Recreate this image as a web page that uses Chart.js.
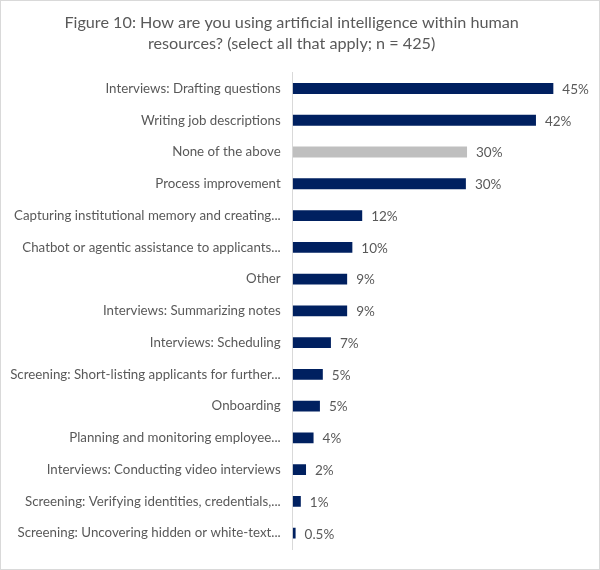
<!DOCTYPE html>
<html>
<head>
<meta charset="utf-8">
<script src="https://cdn.jsdelivr.net/npm/chart.js@4.4.0/dist/chart.umd.min.js"></script>
<style>
  html, body { margin: 0; padding: 0; background: #fff; }
  #wrap { position: relative; width: 598px; height: 568px; border: 1px solid #d9d9d9; }
</style>
</head>
<body>
<div id="wrap"><canvas id="c" width="598" height="568"></canvas></div>
<script>
const titleLines = ["Figure 10: How are you using artificial intelligence within human", "resources? (select all that apply; n = 425)"];
const categories = [
  "Interviews: Drafting questions",
  "Writing job descriptions",
  "None of the above",
  "Process improvement",
  "Capturing institutional memory and creating...",
  "Chatbot or agentic assistance to applicants...",
  "Other",
  "Interviews: Summarizing notes",
  "Interviews: Scheduling",
  "Screening: Short-listing applicants for further...",
  "Onboarding",
  "Planning and monitoring employee...",
  "Interviews: Conducting video interviews",
  "Screening: Verifying identities, credentials,...",
  "Screening: Uncovering hidden or white-text..."
];
const values = [45, 42, 30.1, 29.9, 12, 10.3, 9.4, 9.4, 6.6, 5.2, 4.7, 3.6, 2.3, 1.4, 0.5];
const valueLabels = ["45%", "42%", "30%", "30%", "12%", "10%", "9%", "9%", "7%", "5%", "5%", "4%", "2%", "1%", "0.5%"];
const highlight = ["None of the above"];

const FONT = "Lato, 'Open Sans', sans-serif";
const colors = categories.map(c => highlight.includes(c) ? "#bfbfbf" : "#002060");

const valueLabelPlugin = {
  id: "valueLabels",
  afterDatasetsDraw(chart) {
    const ctx = chart.ctx;
    const meta = chart.getDatasetMeta(0);
    ctx.save();
    ctx.font = "13.5px " + FONT;
    ctx.fillStyle = "#595959";
    ctx.textAlign = "left";
    ctx.textBaseline = "middle";
    meta.data.forEach((bar, i) => {
      ctx.fillText(valueLabels[i], bar.x + 9, bar.y + 1);
    });
    ctx.restore();
  }
};

new Chart(document.getElementById("c"), {
  type: "bar",
  data: {
    labels: categories,
    datasets: [{
      data: values,
      backgroundColor: colors,
      barPercentage: 0.7,
      categoryPercentage: 0.49
    }]
  },
  plugins: [valueLabelPlugin],
  options: {
    indexAxis: "y",
    responsive: false,
    animation: false,
    layout: { padding: { left: 0, right: 16.7, top: 0, bottom: 16.3 } },
    plugins: {
      legend: { display: false },
      tooltip: { enabled: false },
      title: {
        display: true,
        text: titleLines,
        color: "#595959",
        font: { family: FONT, size: 16.2, weight: "normal", lineHeight: 1.28 },
        padding: { top: 11.5, bottom: 18.7 }
      }
    },
    scales: {
      x: {
        min: 0,
        max: 50,
        display: false
      },
      y: {
        afterFit(scale) { scale.width = 291.7; },
        grid: { display: false, drawTicks: false },
        border: { display: true, color: "#d9d9d9", width: 1 },
        ticks: {
          color: "#595959",
          font: { family: FONT, size: 13.3 },
          padding: 12,
          autoSkip: false
        }
      }
    }
  }
});
</script>
</body>
</html>
